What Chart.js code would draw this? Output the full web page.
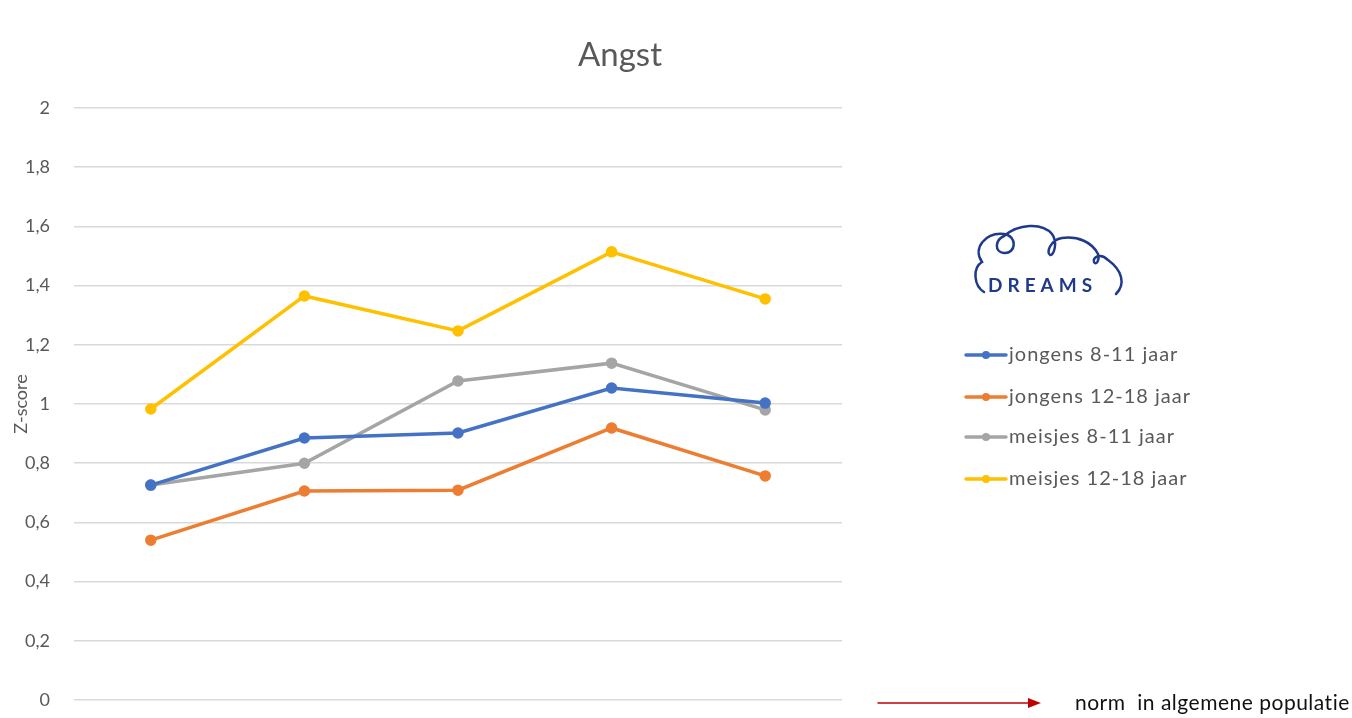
<!DOCTYPE html>
<html>
<head>
<meta charset="utf-8">
<script src="https://cdn.jsdelivr.net/npm/chart.js@4"></script>
<style>
  html, body { margin: 0; padding: 0; background: #fff; }
  #wrap { width: 1352px; height: 718px; position: relative; }
</style>
</head>
<body>
<div id="wrap"><canvas id="angst" width="1352" height="718"></canvas></div>
<script>
// meetmomenten (x-as labels zijn in het origineel weggesneden)
var momenten = ['1', '2', '3', '4', '5']

var jongens8_11 = [0.726, 0.885, 0.902, 1.054, 1.003]
var jongens12_18 = [0.54, 0.706, 0.709, 0.919, 0.757]
var meisjes8_11 = [0.726, 0.80, 1.078, 1.138, 0.98]
var meisjes12_18 = [0.983, 1.365, 1.247, 1.514, 1.355]

var reeksNamen = ['jongens 8-11 jaar', 'jongens 12-18 jaar', 'meisjes 8-11 jaar', 'meisjes 12-18 jaar']
var kleuren = ['#4472C4', '#ED7D31', '#A5A5A5', '#FFC000']

var yTicks = { min: 0, max: 2, step: 0.2 }

var FONT = 'Lato, "Open Sans", sans-serif'
var GREY = '#595959'

function makeSet(i, values) {
  return {
    label: reeksNamen[i]
    , data: values
    , borderColor: kleuren[i]
    , backgroundColor: kleuren[i]
    , pointBackgroundColor: kleuren[i]
    , pointBorderColor: kleuren[i]
    , borderWidth: 3.5
    , pointRadius: 4
    , tension: 0
  }
}

// titel, legenda, logo en de rode pijl tekenen we zelf
var extras = {
  id: 'extras'
  , afterDraw: function (chart) {
    var ctx = chart.ctx
    ctx.save()

    // titel
    ctx.fillStyle = GREY
    ctx.font = '33px ' + FONT
    ctx.textAlign = 'center'
    ctx.textBaseline = 'middle'
    ctx.fillText('Angst', 620, 55)

    // logo
    drawLogo(ctx)

    // legenda
    ctx.textAlign = 'left'
    ctx.font = '20px ' + FONT
    ctx.letterSpacing = '1px'
    var rows = [355, 397, 437, 479]
    chart.data.datasets.forEach(function (ds, i) {
      var y = rows[i]
      ctx.strokeStyle = ds.borderColor
      ctx.lineWidth = 3.5
      ctx.beginPath()
      ctx.moveTo(966, y)
      ctx.lineTo(1006, y)
      ctx.stroke()
      ctx.fillStyle = ds.borderColor
      ctx.beginPath()
      ctx.arc(986, y, 4, 0, Math.PI * 2)
      ctx.fill()
      ctx.fillStyle = GREY
      ctx.fillText(ds.label, 1009, y)
    })

    // norm pijl
    ctx.strokeStyle = '#C00000'
    ctx.fillStyle = '#C00000'
    ctx.lineWidth = 1.5
    ctx.beginPath()
    ctx.moveTo(878, 703)
    ctx.lineTo(1030, 703)
    ctx.stroke()
    ctx.beginPath()
    ctx.moveTo(1041, 703)
    ctx.lineTo(1028, 698)
    ctx.lineTo(1028, 708)
    ctx.closePath()
    ctx.fill()
    ctx.fillStyle = '#111'
    ctx.font = '21px ' + FONT
    ctx.letterSpacing = '0.5px'
    ctx.fillText('norm  in algemene populatie', 1075, 703)

    ctx.restore()
  }
}

function drawLogo(ctx) {
  var blue = '#1F3A8C'
  ctx.strokeStyle = blue
  ctx.lineWidth = 2.5
  ctx.lineCap = 'round'
  // wolk met lussen
  ctx.beginPath()
  ctx.moveTo(984, 292)
  ctx.bezierCurveTo(974, 286, 972, 268, 982, 262)
  ctx.bezierCurveTo(972, 248, 986, 232, 1004, 234)
  ctx.bezierCurveTo(1018, 236, 1016, 254, 1004, 253)
  ctx.bezierCurveTo(994, 252, 995, 240, 1004, 236)
  ctx.bezierCurveTo(1018, 224, 1042, 222, 1052, 234)
  ctx.bezierCurveTo(1058, 242, 1054, 256, 1050, 255)
  ctx.bezierCurveTo(1046, 253, 1050, 240, 1062, 238)
  ctx.bezierCurveTo(1078, 236, 1092, 242, 1098, 254)
  ctx.bezierCurveTo(1100, 260, 1096, 266, 1094, 262)
  ctx.bezierCurveTo(1092, 258, 1100, 252, 1108, 260)
  ctx.bezierCurveTo(1122, 270, 1126, 284, 1116, 294)
  ctx.stroke()
  ctx.fillStyle = blue
  ctx.font = 'bold 19px ' + FONT
  ctx.textAlign = 'left'
  ctx.textBaseline = 'middle'
  var letters = 'DREAMS'
  var x = 988
  for (var i = 0; i < letters.length; i++) {
    ctx.fillText(letters[i], x, 286)
    x += ctx.measureText(letters[i]).width + 5
  }
}

new Chart(document.getElementById('angst'), {
  type: 'line'
  , data: {
    labels: momenten
    , datasets: [
      makeSet(0, jongens8_11)
      , makeSet(1, jongens12_18)
      , makeSet(2, meisjes8_11)
      , makeSet(3, meisjes12_18)
    ]
  }
  , options: {
    responsive: false
    , animation: false
    , devicePixelRatio: 1
    , layout: { padding: { top: 108, right: 510, bottom: 18, left: 0 } }
    , plugins: {
      legend: { display: false }
      , title: { display: false }
      , tooltip: { enabled: false }
    }
    , scales: {
      x: {
        display: false
        , offset: true
      }
      , y: {
        min: yTicks.min
        , max: yTicks.max
        , ticks: {
          stepSize: yTicks.step
          , padding: 24
          , color: GREY
          , font: { family: FONT, size: 18 }
          , callback: function (v) {
            return String(Math.round(v * 10) / 10).replace('.', ',')
          }
        }
        , grid: { color: '#D9D9D9', lineWidth: 1.5, drawTicks: false }
        , border: { display: false }
        , title: {
          display: true
          , text: 'Z-score'
          , color: GREY
          , font: { family: FONT, size: 18 }
          , padding: { top: 10, bottom: 0 }
        }
        , afterFit: function (scale) {
          scale.width = 74
          scale.paddingBottom = 0
          scale.paddingTop = 0
        }
      }
    }
  }
  , plugins: [extras]
})
</script>
</body>
</html>
